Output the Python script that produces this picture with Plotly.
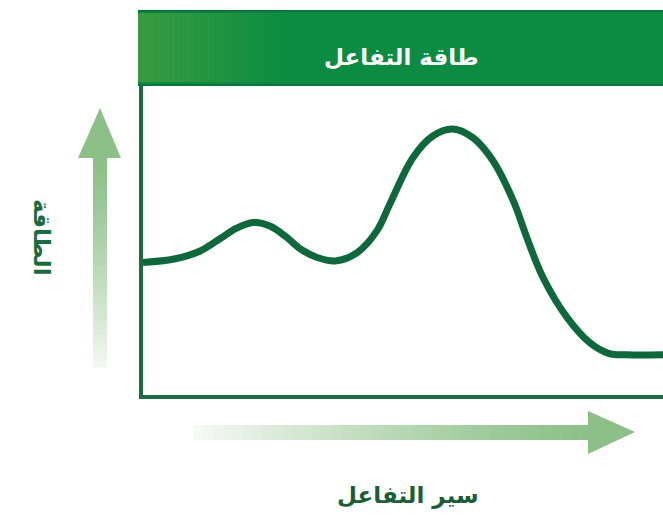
"""
Diagrama de energia de reaccion (طاقة التفاعل) con Plotly.
"""

import plotly.graph_objects as go

W, H = 663, 519

# datos (sir at-tafa'ul 0-100, energia 0-100)
progress = [0.0, 6.0, 11.0, 15.0, 18.0, 21.2, 24.5, 27.5, 30.5, 33.5, 37.0,
            41.2, 45.0, 47.5, 51.9, 55.8, 59.6, 63.5, 67.3, 71.2, 73.8,
            76.9, 81.5, 86.0, 89.5, 93.0, 100]
energy = [42.9, 44.0, 46.6, 50.8, 54.0, 55.8, 54.6, 51.2, 47.0, 44.5, 43.4,
          46.1, 53.2, 61.9, 76.8, 83.9, 86.1, 83.2, 75.8, 62.9, 51.0,
          38.1, 25.2, 16.8, 13.5, 13.0, 13.0]

TITLE = 'طاقة التفاعل'
Y_LABEL = 'الطاقة'
X_LABEL = 'سير التفاعل'

LINE_GREEN = '#0f683b'
AXIS_GREEN = '#1c6b46'
HEADER_GREEN = '#0b8c42'
ARROW_GREEN = (140, 192, 136)
FADE = (246, 249, 245)

# caja del grafico en pixeles
PLOT_L, PLOT_R, PLOT_T, PLOT_B = 143, 663, 86, 395


def _mix(c1, c2, t):
    r, g, b = (round(a + (b_ - a) * t) for a, b_ in zip(c1, c2))
    return f'rgb({r},{g},{b})'


def _fx(px):
    return px / W


def _fy(py):
    return 1 - py / H


def _rect(x0, x1, y0, y1, color, opacity=1.0):
    return dict(type='rect', xref='paper', yref='paper', layer='below',
                x0=_fx(x0), x1=_fx(x1), y0=_fy(y0), y1=_fy(y1),
                fillcolor=color, opacity=opacity, line=dict(width=0))


def _tri(pts, color):
    path = 'M ' + ' L '.join(f'{_fx(x):.5f} {_fy(y):.5f}' for x, y in pts) + ' Z'
    return dict(type='path', xref='paper', yref='paper', layer='below',
                path=path, fillcolor=color, line=dict(width=0))


def _label(text, x, y, size, color, angle=0):
    return dict(text=f'<b>{text}</b>', x=_fx(x), y=_fy(y), xref='paper', yref='paper',
                xanchor='center', yanchor='middle', textangle=angle, showarrow=False,
                font=dict(family='DejaVu Sans', size=size, color=color))


fig = go.Figure()

fig.add_trace(go.Scatter(
    x=progress, y=energy, mode='lines',
    line=dict(color=LINE_GREEN, width=7, shape='spline', smoothing=1.0),
    hoverinfo='skip', showlegend=False,
))

shapes = []

# barra de titulo
shapes.append(_rect(138, W, 10, 86, HEADER_GREEN))
n = 30
for i in range(n):
    x0 = 138 + i * 5
    shapes.append(_rect(x0, x0 + 5.5, 13, 82, '#45a03f', 0.75 * (1 - i / n)))
for k, op in enumerate([0.8, 0.5, 0.25]):
    shapes.append(_rect(138, W, 10 + k, 11 + k, '#0a6a35', op))
    shapes.append(_rect(138, W, 85 - k, 86 - k, '#0a6a35', op))

# flecha vertical (energia)
n = 40
y_top, y_bot = 155, 367
step = (y_bot - y_top) / n
for i in range(n):
    shapes.append(_rect(93, 107, y_top + i * step, y_top + (i + 1) * step + 0.6,
                        _mix(ARROW_GREEN, FADE, (i / n) ** 1.3)))
shapes.append(_tri([(78, 158), (121, 158), (100, 108)], _mix(ARROW_GREEN, FADE, 0)))

# flecha horizontal (sir at-tafa'ul)
x_left, x_right = 193, 590
step = (x_right - x_left) / n
for i in range(n):
    shapes.append(_rect(x_left + i * step, x_left + (i + 1) * step + 0.6, 425, 440,
                        _mix(ARROW_GREEN, FADE, (1 - i / n) ** 1.3)))
shapes.append(_tri([(588, 411), (588, 454), (635, 432)], _mix(ARROW_GREEN, FADE, 0)))

fig.update_layout(
    width=W, height=H,
    margin=dict(l=0, r=0, t=0, b=0),
    paper_bgcolor='white', plot_bgcolor='rgba(0,0,0,0)',
    showlegend=False,
    shapes=shapes,
    xaxis=dict(domain=[_fx(PLOT_L), _fx(PLOT_R)], range=[0, 100],
               showgrid=False, zeroline=False, showticklabels=False, ticks='',
               showline=True, linecolor=AXIS_GREEN, linewidth=4, fixedrange=True),
    yaxis=dict(domain=[_fy(PLOT_B), _fy(PLOT_T)], range=[0, 100],
               showgrid=False, zeroline=False, showticklabels=False, ticks='',
               showline=True, linecolor=AXIS_GREEN, linewidth=4, fixedrange=True),
    annotations=[
        _label(TITLE, 401, 57, 23, 'white'),
        _label(Y_LABEL, 42, 237, 23, '#1b6b40', angle=90),
        _label(X_LABEL, 408, 495, 23, '#1b5e36'),
    ],
)

# el body de la pagina trae margen de 8px por defecto
fig.write_html('out.html', config={'displayModeBar': False},
               post_script="document.body.style.margin='0';")
